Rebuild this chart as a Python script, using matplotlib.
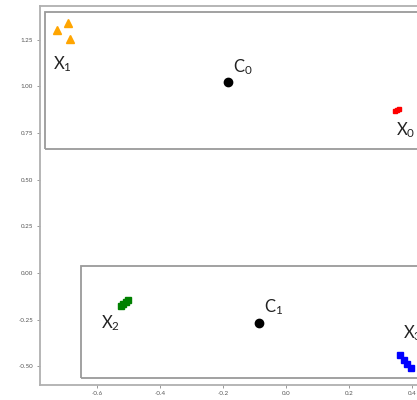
import matplotlib
matplotlib.use("Agg")
import matplotlib.pyplot as plt
from matplotlib.patches import Rectangle

plt.rcParams['font.family'] = ['Lato', 'DejaVu Sans']
plt.rcParams['mathtext.fontset'] = 'custom'
plt.rcParams['mathtext.rm'] = 'Lato'
plt.rcParams['mathtext.it'] = 'Lato'
plt.rcParams['axes.unicode_minus'] = False

# data
x0_x = [0.345, 0.352, 0.358]
x0_y = [0.870, 0.874, 0.877]
x1_x = [-0.727, -0.693, -0.686]
x1_y = [1.300, 1.340, 1.253]
x2_x = [-0.525, -0.517, -0.509, -0.502]
x2_y = [-0.177, -0.166, -0.155, -0.146]
x3_x = [0.362, 0.373, 0.384, 0.396]
x3_y = [-0.440, -0.465, -0.487, -0.508]
c_x = [-0.184, -0.086]
c_y = [1.023, -0.268]
labels = ['X$_0$', 'X$_1$', 'X$_2$', 'X$_3$', 'C$_0$', 'C$_1$']
label_x = [0.381, -0.711, -0.559, 0.40, -0.137, -0.041]
label_y = [0.766, 1.119, -0.268, -0.321, 1.103, -0.182]
boxes = [(-0.765, 0.664, 1.5, 0.734), (-0.651, -0.562, 1.5, 0.599)]
xticks = [-0.6, -0.4, -0.2, 0.0, 0.2, 0.4]
yticks = [-0.50, -0.25, 0.00, 0.25, 0.50, 0.75, 1.00, 1.25]

fig = plt.figure(figsize=(4.17, 4.0), dpi=100)
ax = fig.add_axes([39.5/417, 15/400, (443.5-39.5)/417, 379/400])
ax.set_xlim(-0.783, 0.5)
ax.set_ylim(-0.6, 1.43)

for (bx, by, bw, bh) in boxes:
    ax.add_patch(Rectangle((bx, by), bw, bh, fill=False, edgecolor='#9a9a9a', lw=1.3, clip_on=False))

ax.plot(x0_x, x0_y, 's', color='red', ms=3.5, mec='red')
ax.plot(x1_x, x1_y, '^', color='orange', ms=6)
ax.plot(x2_x, x2_y, 's', color='green', ms=4)
ax.plot(x3_x, x3_y, 's', color='blue', ms=4)
ax.plot(c_x, c_y, 'o', color='black', ms=6)

for t, lx, ly in zip(labels, label_x, label_y):
    ax.text(lx, ly, t, ha='center', va='center', fontsize=12, color='#222222')

ax.set_xticks(xticks)
ax.set_yticks(yticks)
ax.set_xticklabels([f'{v:.1f}' for v in xticks])
ax.set_yticklabels([f'{v:.2f}' for v in yticks])
ax.tick_params(labelsize=4.5, labelcolor='#555555', color='#888888', length=2.5, width=0.6, pad=2)
for s in ax.spines.values():
    s.set_color('#b0b0b0')
    s.set_linewidth(1.3)

fig.savefig('out.png', dpi=100)
